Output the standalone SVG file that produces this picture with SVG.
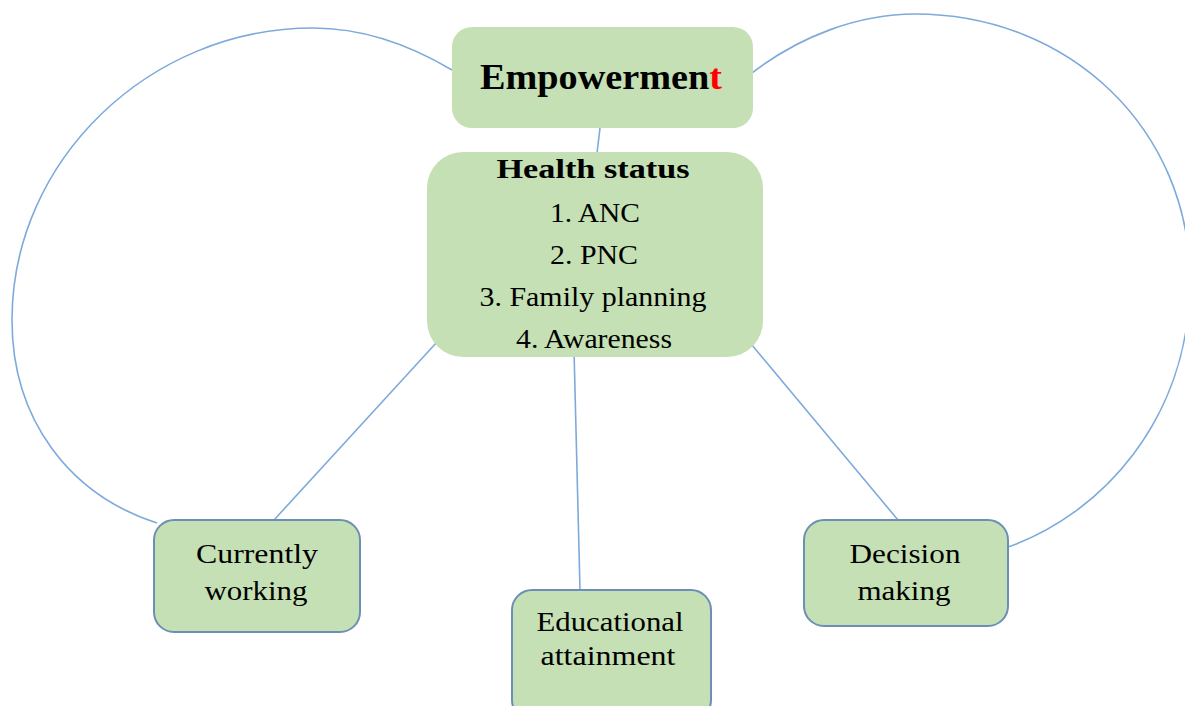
<svg xmlns="http://www.w3.org/2000/svg" width="1185" height="706" viewBox="0 0 1185 706">
<style>
.node{fill:#c5e0b4}
.bnode{fill:#c5e0b4;stroke:#6b8fb6;stroke-width:2}
.conn{fill:none;stroke:#7eaadb;stroke-width:1.6}
.t{font-family:"Liberation Serif","Times New Roman",serif;font-size:27px;fill:#000;text-anchor:middle}
.b{font-weight:bold}
.big{font-size:35px}
</style>
<rect width="1185" height="706" fill="#fff"/>
<g id="connectors">
<path class="conn" d="M452,70 C410,45 365,28 313,28 C150,28 12,160 12,320 C12,420 70,495 157,523"/>
<path class="conn" d="M748,76 C800,35 860,14 915,14 C1070,14 1190,130 1190,280 C1190,420 1100,515 1008,547"/>
<line class="conn" x1="600" y1="128" x2="597" y2="153"/>
<line class="conn" x1="437" y1="342" x2="274" y2="520"/>
<line class="conn" x1="574" y1="350" x2="580" y2="590"/>
<line class="conn" x1="752" y1="345" x2="898" y2="520"/>
</g>
<g id="empowerment">
<rect class="node" x="452" y="27" width="301" height="101" rx="20"/>
<text class="t b big" x="601" y="89" textLength="242" lengthAdjust="spacingAndGlyphs">Empowermen<tspan fill="#ff0000">t</tspan></text>
</g>
<g id="health-status">
<rect class="node" x="427" y="152" width="336" height="205" rx="36"/>
<text class="t b" x="593" y="178" textLength="193" lengthAdjust="spacingAndGlyphs">Health status</text>
<text class="t" x="595" y="222" textLength="90" lengthAdjust="spacingAndGlyphs">1. ANC</text>
<text class="t" x="594" y="264" textLength="88" lengthAdjust="spacingAndGlyphs">2. PNC</text>
<text class="t" x="593" y="306" textLength="227" lengthAdjust="spacingAndGlyphs">3. Family planning</text>
<text class="t" x="594" y="348" textLength="156" lengthAdjust="spacingAndGlyphs">4. Awareness</text>
</g>
<g id="currently-working">
<rect class="bnode" x="154" y="520" width="206" height="112" rx="20"/>
<text class="t" x="257" y="563" textLength="122" lengthAdjust="spacingAndGlyphs">Currently</text>
<text class="t" x="256" y="600" textLength="103" lengthAdjust="spacingAndGlyphs">working</text>
</g>
<g id="educational-attainment">
<rect class="bnode" x="512" y="590" width="199" height="130" rx="20"/>
<text class="t" x="610" y="631" textLength="147" lengthAdjust="spacingAndGlyphs">Educational</text>
<text class="t" x="608" y="665" textLength="135" lengthAdjust="spacingAndGlyphs">attainment</text>
</g>
<g id="decision-making">
<rect class="bnode" x="804" y="520" width="204" height="106" rx="20"/>
<text class="t" x="905" y="563" textLength="111" lengthAdjust="spacingAndGlyphs">Decision</text>
<text class="t" x="904" y="600" textLength="93" lengthAdjust="spacingAndGlyphs">making</text>
</g>
</svg>
